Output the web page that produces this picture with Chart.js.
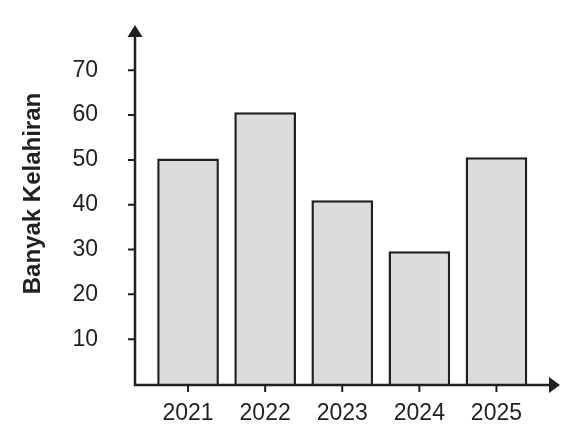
<!DOCTYPE html>
<html>
<head>
<meta charset="utf-8">
<script src="https://cdn.jsdelivr.net/npm/chart.js@4"></script>
<style>
  html, body { margin: 0; padding: 0; background: #fff; }
  #wrap { width: 588px; height: 430px; }
</style>
</head>
<body>
<div id="wrap"><canvas id="myChart" width="588" height="430"></canvas></div>
<script>
const years = ['2021', '2022', '2023', '2024', '2025'];
const births = [50.3, 60.6, 41, 29.6, 50.6];
const yTicks = [10, 20, 30, 40, 50, 60, 70];

const ink = '#231f20';

// axis lines with arrow heads and small tick marks
const arrowAxes = {
  id: 'arrowAxes',
  afterDatasetsDraw(chart) {
    const { ctx, chartArea, scales: { x, y } } = chart;
    const ax = chartArea.left - 14.5;
    const ay = y.getPixelForValue(0) + 1;
    ctx.save();
    ctx.strokeStyle = ink;
    ctx.fillStyle = ink;
    ctx.lineWidth = 2.5;

    ctx.beginPath();
    ctx.moveTo(ax, ay + 1);
    ctx.lineTo(ax, 34);
    ctx.moveTo(ax - 1, ay);
    ctx.lineTo(552, ay);
    ctx.stroke();

    ctx.beginPath();
    ctx.moveTo(ax, 25);
    ctx.lineTo(ax - 7.5, 37);
    ctx.lineTo(ax + 7.5, 37);
    ctx.closePath();
    ctx.fill();

    ctx.beginPath();
    ctx.moveTo(560, ay);
    ctx.lineTo(549, ay - 8);
    ctx.lineTo(549, ay + 8);
    ctx.closePath();
    ctx.fill();

    ctx.lineWidth = 2;
    ctx.beginPath();
    yTicks.forEach(v => {
      const py = y.getPixelForValue(v);
      ctx.moveTo(ax - 7, py);
      ctx.lineTo(ax, py);
    });
    years.forEach((_, i) => {
      const px = x.getPixelForValue(i);
      ctx.moveTo(px, ay);
      ctx.lineTo(px, ay + 7);
    });
    ctx.stroke();
    ctx.restore();
  }
};

new Chart(document.getElementById('myChart').getContext('2d'), {
  type: 'bar',
  data: {
    labels: years,
    datasets: [{
      label: 'Banyak Kelahiran',
      data: births,
      backgroundColor: '#dbdcde',
      borderColor: ink,
      borderWidth: 2.5,
      categoryPercentage: 1,
      barPercentage: 0.8
    }]
  },
  options: {
    responsive: false,
    animation: false,
    layout: { padding: { top: 3, right: 53, bottom: 0, left: 0 } },
    plugins: { legend: { display: false }, tooltip: { enabled: false } },
    scales: {
      x: {
        grid: { display: false },
        border: { display: false },
        ticks: {
          color: ink,
          padding: 8,
          font: { family: 'Liberation Sans, Arial, sans-serif', size: 23 }
        },
        afterFit: s => { s.height = 46; s.paddingLeft = 0; s.paddingRight = 0; }
      },
      y: {
        min: 0,
        max: 85,
        grid: { display: false },
        border: { display: false },
        afterBuildTicks: s => { s.ticks = yTicks.map(v => ({ value: v })); },
        ticks: {
          color: ink,
          padding: 43.5,
          font: { family: 'Liberation Sans, Arial, sans-serif', size: 23 }
        },
        title: {
          display: true,
          text: 'Banyak Kelahiran',
          color: ink,
          padding: { top: 19, bottom: 0 },
          font: { family: 'Liberation Sans, Arial, sans-serif', size: 24, weight: 'bold' }
        },
        afterFit: s => { s.width = 149.5; s.paddingTop = 0; s.paddingBottom = 0; }
      }
    }
  },
  plugins: [arrowAxes]
});
</script>
</body>
</html>
